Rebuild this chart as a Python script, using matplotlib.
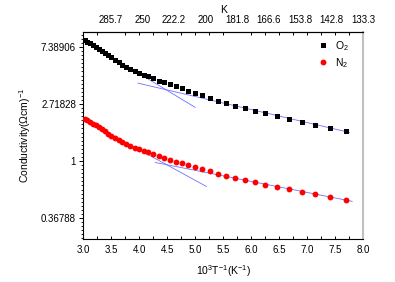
import numpy as np
import matplotlib
matplotlib.use('Agg')
import matplotlib.pyplot as plt
from matplotlib.ticker import FixedLocator, NullFormatter

plt.rcParams['font.family'] = ['Liberation Sans', 'DejaVu Sans']
plt.rcParams['mathtext.fontset'] = 'custom'
plt.rcParams['mathtext.rm'] = 'Liberation Sans'
plt.rcParams['mathtext.it'] = 'Liberation Sans:italic'

# temperatures (K) of the measurements, 330 K down to 130 K
temps = [330, 325, 320, 315, 310, 305, 300, 295, 290, 285, 280, 275, 270, 265,
         260, 255, 250, 245, 240, 235, 230, 225, 220, 215, 210, 205, 200, 195,
         190, 185, 180, 175, 170, 165, 160, 155, 150, 145, 140, 135, 130]

# conductivity (ohm cm)^-1
sigma_o2 = [8.40, 8.13, 7.89, 7.63, 7.37, 7.15, 6.92, 6.70, 6.43, 6.16, 5.88,
            5.64, 5.40, 5.16, 4.99, 4.81, 4.65, 4.54, 4.43, 4.28, 4.10, 3.98,
            3.87, 3.70, 3.60, 3.43, 3.31, 3.18, 3.04, 2.87, 2.77, 2.64, 2.54,
            2.42, 2.32, 2.21, 2.10, 1.99, 1.89, 1.79, 1.70]
sigma_n2 = [2.094, 2.038, 1.982, 1.927, 1.874, 1.809, 1.744, 1.680, 1.619,
            1.556, 1.495, 1.448, 1.398, 1.353, 1.303, 1.261, 1.229, 1.202,
            1.174, 1.139, 1.100, 1.054, 1.016, 0.989, 0.962, 0.932, 0.900,
            0.867, 0.835, 0.803, 0.769, 0.746, 0.719, 0.687, 0.658, 0.634,
            0.612, 0.583, 0.562, 0.535, 0.507]

xticks = [3.0, 3.5, 4.0, 4.5, 5.0, 5.5, 6.0, 6.5, 7.0, 7.5, 8.0]
yticks = [np.e**2, np.e, 1, np.e**-1]
ytick_labels = ['7.38906', '2.71828', '1', '0.36788']
top_labels = ['285.7', '250', '222.2', '200', '181.8', '166.6', '153.8', '142.8', '133.3']

x = 1000.0 / np.array(temps)
blue = '#7070ff'

fig = plt.figure(figsize=(3.95, 2.82), dpi=100)
ax = fig.add_axes([0.210, 0.1525, 0.710, 0.735])

# linear fits of ln(sigma) for the high-T and low-T parts
def fit_line(xs, ys, lo, hi):
    p = np.polyfit(xs, np.log(ys), 1)
    xx = np.array([lo, hi])
    return xx, np.exp(np.polyval(p, xx))

for ys, r1, r2 in [(sigma_o2, (3.0, 5.0), (3.98, 7.75)),
                   (sigma_n2, (3.0, 5.2), (4.29, 7.8))]:
    ys = np.array(ys)
    xx, yy = fit_line(x[:19], ys[:19], *r1)
    ax.plot(xx, yy, color=blue, lw=0.6, zorder=1)
    xx, yy = fit_line(x[-11:], ys[-11:], *r2)
    ax.plot(xx, yy, color=blue, lw=0.6, zorder=1)

ax.plot(x, sigma_o2, 's', color='black', ms=3.6, mew=0, label='O$_2$', zorder=3)
ax.plot(x, sigma_n2, 'o', color='red', ms=4.2, mew=0, label='N$_2$', zorder=3)

ax.set_yscale('log', base=np.e)
ax.set_xlim(3.0, 8.0)
ax.set_ylim(np.exp(-1.368), np.exp(2.268))

ax.set_xticks(xticks)
ax.set_xticklabels(['%.1f' % v for v in xticks])
ax.xaxis.set_minor_locator(FixedLocator(np.arange(3.0, 8.01, 0.25)))
ax.set_yticks(yticks)
ax.set_yticklabels(ytick_labels)
minor = [np.exp(k / 14.0) for k in range(-20, 33) if k % 14 != 0]
ax.yaxis.set_minor_locator(FixedLocator(minor))
ax.yaxis.set_minor_formatter(NullFormatter())

ax.tick_params(axis='x', which='both', direction='in', length=2.5, width=0.7,
               labelsize=7, pad=4)
ax.tick_params(axis='y', which='major', direction='out', length=3, width=0.7,
               labelsize=7, pad=2)
ax.tick_params(axis='y', which='minor', direction='out', length=1.8, width=0.6)

for s in ['left', 'bottom', 'top']:
    ax.spines[s].set_linewidth(0.8)
ax.spines['right'].set_color('#c0c0c0')
ax.spines['right'].set_linewidth(1.5)

ax.set_xlabel('10$^3$T$^{-1}$(K$^{-1}$)', fontsize=7.5, labelpad=6)
ax.set_ylabel('Conductivity($\\Omega$cm)$^{-1}$', fontsize=7.5, labelpad=6)

ax2 = ax.twiny()
ax2.set_xlim(3.0, 8.0)
ax2.set_xticks(np.linspace(3.5, 8.0, len(top_labels)))
ax2.set_xticklabels(top_labels)
ax2.xaxis.set_minor_locator(FixedLocator(np.arange(3.0, 8.01, 0.25)))
ax2.tick_params(axis='x', which='major', length=0, labelsize=7, pad=5)
ax2.tick_params(axis='x', which='minor', direction='in', length=2.5, width=0.7)
for s in ['left', 'right', 'bottom']:
    ax2.spines[s].set_visible(False)
ax2.spines['top'].set_linewidth(0.8)
ax2.set_xlabel('K', fontsize=7.5, labelpad=1)

ax.legend(loc='upper right', bbox_to_anchor=(0.98, 1.01), frameon=False,
          fontsize=7.5, handlelength=1.0, handletextpad=0.6, labelspacing=0.3)

fig.savefig('out.png', dpi=100)
